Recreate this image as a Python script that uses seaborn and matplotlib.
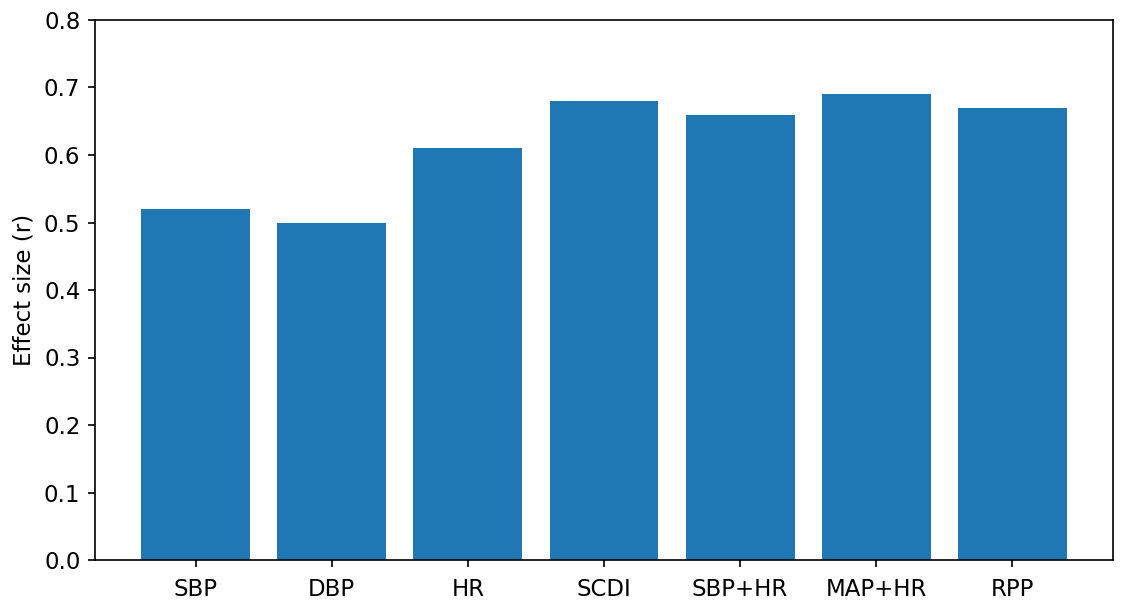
import matplotlib
matplotlib.use("Agg")
import matplotlib.pyplot as plt
import seaborn as sns
import pandas as pd

# values
measures = ["SBP", "DBP", "HR", "SCDI", "SBP+HR", "MAP+HR", "RPP"]
effect_r = [0.52, 0.50, 0.61, 0.68, 0.66, 0.69, 0.67]

df = pd.DataFrame({"measure": measures, "r": effect_r})

plt.rcParams['font.size'] = 11

dpi = 150
fig = plt.figure(figsize=(1123 / dpi, 601 / dpi), dpi=dpi)
# axes placed so the bottom tick labels are cut by the figure edge, like the reference
ax = fig.add_axes([95 / 1123, 41 / 601, 1018 / 1123, 540 / 601])

sns.barplot(data=df, x="measure", y="r", color="#1f77b4", saturation=1,
            width=0.8, linewidth=0, ax=ax)

ax.set_xlim(-0.74, 6.74)
ax.set_ylim(0, 0.8)
ax.set_xlabel("")
ax.set_ylabel("Effect size (r)")
ax.tick_params(axis='x', pad=5)

fig.savefig("out.png", dpi=dpi)
